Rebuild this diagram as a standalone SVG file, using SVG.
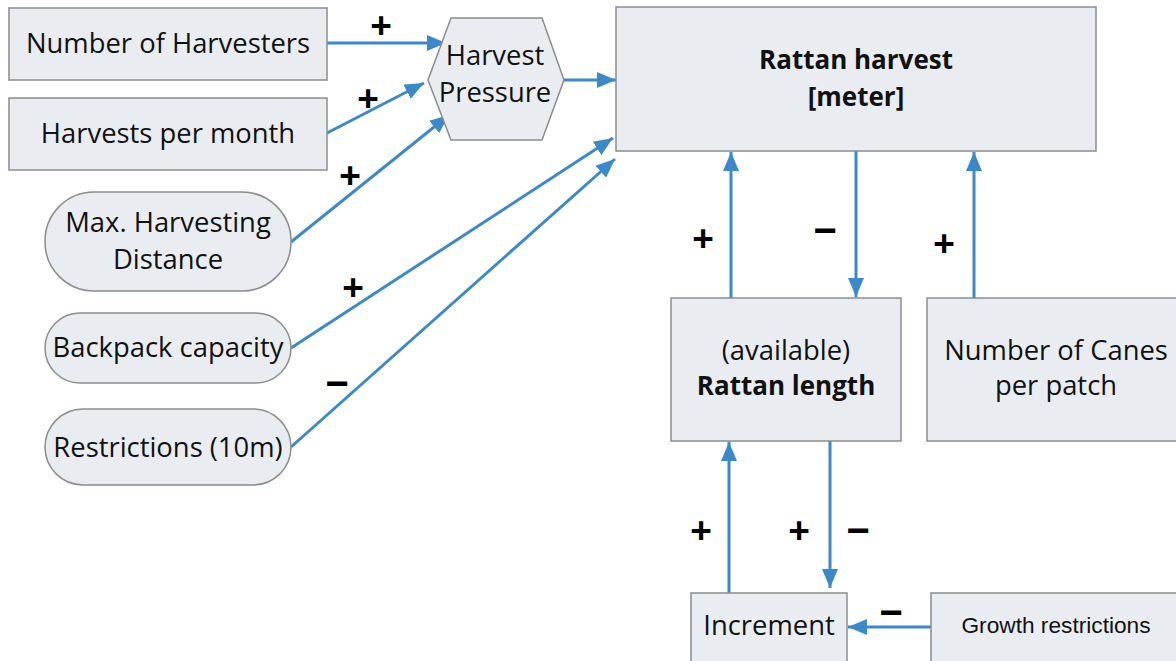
<svg xmlns="http://www.w3.org/2000/svg" width="1176" height="661" viewBox="0 0 1176 661">
<style>
.box{fill:#e9edf2;stroke:#8c8c8c;stroke-width:1.5}
.t{font-family:"Open Sans",Lato,sans-serif;font-size:27.4px;fill:#111;text-anchor:middle}
.b{font-weight:bold;font-size:26px}
.g{font-family:"Liberation Sans",Arial,sans-serif;font-size:22.7px;fill:#111;text-anchor:middle}
.p{font-family:"Liberation Sans",Arial,sans-serif;font-size:37px;font-weight:bold;fill:#000;text-anchor:middle}
.m{font-family:"Liberation Sans",Arial,sans-serif;font-size:40px;font-weight:bold;fill:#000;text-anchor:middle}
.c{fill:none;stroke:#3c89c9;stroke-width:3;marker-end:url(#ah)}
</style>
<defs>
<marker id="ah" markerUnits="userSpaceOnUse" markerWidth="20" markerHeight="16" refX="19" refY="8" orient="auto">
<path d="M0,0 L19,8 L0,16 Z" fill="#3c89c9"/>
</marker>
</defs>
<g id="connectors">
<line class="c" x1="327" y1="43" x2="446" y2="43"/>
<line class="c" x1="327" y1="133" x2="424" y2="83"/>
<line class="c" x1="291" y1="242" x2="449" y2="115"/>
<line class="c" x1="291" y1="348" x2="613" y2="138"/>
<line class="c" x1="291" y1="447" x2="615" y2="159"/>
<line class="c" x1="563" y1="80" x2="616" y2="80"/>
<line class="c" x1="731" y1="298" x2="731" y2="152"/>
<line class="c" x1="856" y1="151" x2="856" y2="297"/>
<line class="c" x1="974" y1="298" x2="974" y2="152"/>
<line class="c" x1="729" y1="593" x2="729" y2="442"/>
<line class="c" x1="830" y1="441" x2="830" y2="588"/>
<line class="c" x1="931" y1="627" x2="848" y2="627"/>
</g>
<g id="labels">
<text class="p" x="381" y="38">+</text>
<text class="p" x="368" y="111">+</text>
<text class="p" x="350" y="188">+</text>
<text class="p" x="353" y="300">+</text>
<text class="m" x="337" y="397">−</text>
<text class="p" x="703" y="251">+</text>
<text class="m" x="825" y="244">−</text>
<text class="p" x="944" y="256">+</text>
<text class="p" x="701" y="543">+</text>
<text class="p" x="799" y="543">+</text>
<text class="m" x="858" y="544">−</text>
<text class="m" x="891" y="626">−</text>
</g>
<g id="n-harvesters">
<rect class="box" x="9" y="8" width="318" height="72"/>
<text class="t" x="168" y="53">Number of Harvesters</text>
</g>
<g id="n-harvests-month">
<rect class="box" x="9" y="98" width="318" height="72"/>
<text class="t" x="168" y="143">Harvests per month</text>
</g>
<g id="n-pressure">
<polygon class="box" points="428,80 451,18 542,18 564,80 542,140 451,140"/>
<text class="t" x="495" y="65">Harvest</text>
<text class="t" x="495" y="102">Pressure</text>
</g>
<g id="n-distance">
<rect class="box" x="45" y="192" width="246" height="99" rx="49" ry="49"/>
<text class="t" x="168" y="232">Max. Harvesting</text>
<text class="t" x="168" y="269">Distance</text>
</g>
<g id="n-backpack">
<rect class="box" x="45" y="313" width="246" height="70" rx="35" ry="35"/>
<text class="t" x="168" y="357">Backpack capacity</text>
</g>
<g id="n-restrictions">
<rect class="box" x="45" y="409" width="246" height="76" rx="38" ry="38"/>
<text class="t" x="168" y="457">Restrictions (10m)</text>
</g>
<g id="n-rattan-harvest">
<rect class="box" x="616" y="7" width="480" height="144"/>
<text class="t b" x="856" y="69">Rattan harvest</text>
<text class="t b" x="856" y="106">[meter]</text>
</g>
<g id="n-rattan-length">
<rect class="box" x="671" y="298" width="230" height="143"/>
<text class="t" x="786" y="360">(available)</text>
<text class="t b" x="786" y="395">Rattan length</text>
</g>
<g id="n-canes">
<rect class="box" x="927" y="298" width="260" height="143"/>
<text class="t" x="1056" y="360">Number of Canes</text>
<text class="t" x="1056" y="395">per patch</text>
</g>
<g id="n-increment">
<rect class="box" x="691" y="593" width="156" height="75"/>
<text class="t" x="769" y="635">Increment</text>
</g>
<g id="n-growth">
<rect class="box" x="931" y="593" width="256" height="75"/>
<text class="g" x="1056" y="633">Growth restrictions</text>
</g>
</svg>
